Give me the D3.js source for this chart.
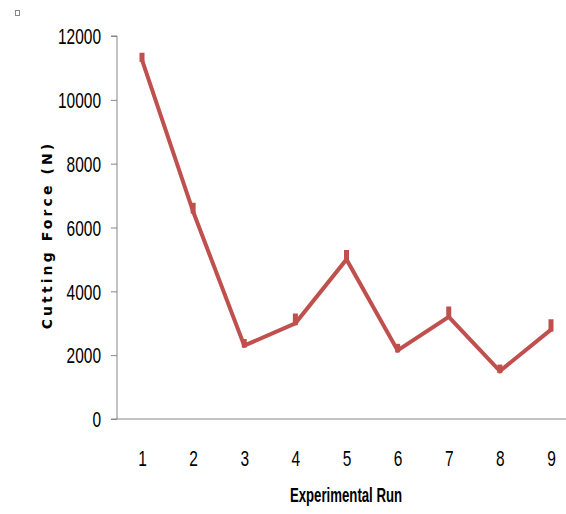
<!DOCTYPE html>
<html><head><meta charset="utf-8">
<script src="https://cdn.jsdelivr.net/npm/d3@7"></script>
<style>body{margin:0;background:#fff}</style>
</head><body>
<svg id="c" width="566" height="514"></svg>
<script>
const runs = ["1","2","3","4","5","6","7","8","9"];
const force = [11250, 6500, 2300, 3000, 5000, 2150, 3200, 1500, 2800];
const errUp = [100, 150, 80, 180, 170, 80, 200, 80, 200];
const yTicks = [0, 2000, 4000, 6000, 8000, 10000, 12000];

(function(){
const svg = d3.select("#c");
const mLeft = 117, mTop = 36, mBottom = 419;
const sx = 0.72;
const x = d3.scalePoint().domain(runs).range([142, 551]);
const y = d3.scaleLinear().domain([0, 12000]).range([mBottom, mTop]);
const tickFont = "'Liberation Sans',Arial,sans-serif";

const ya = svg.append("g").attr("transform", `translate(${mLeft},0)`)
  .call(d3.axisLeft(y).tickValues(yTicks).tickSize(6).tickPadding(9).tickFormat(d3.format("d")));
ya.select(".domain").attr("stroke", "#868686").attr("d", `M-6,${mTop}H0V${mBottom}`);
ya.selectAll(".tick line").attr("stroke", "#868686");
ya.selectAll(".tick text").attr("font-family", tickFont).attr("font-size", 21.5).attr("fill", "#000")
  .attr("x", -16 / sx).attr("dy", "0.36em").attr("transform", `scale(${sx},1)`);

const xa = svg.append("g").attr("transform", `translate(0,${mBottom})`)
  .call(d3.axisBottom(x).tickSize(0).tickPadding(0));
xa.select(".domain").attr("stroke", "#868686").attr("d", `M111,0H566`);
xa.selectAll(".tick text").attr("font-family", tickFont).attr("font-size", 21.5).attr("fill", "#000")
  .attr("y", 47).attr("dy", 0).attr("transform", `scale(${sx},1)`);

const line = d3.line().x((d, i) => x(runs[i])).y(d => y(d));
svg.append("path").datum(force).attr("d", line)
  .attr("fill", "none").attr("stroke", "#C0504D").attr("stroke-width", 4).attr("stroke-linejoin", "miter");

svg.selectAll("rect.m").data(force).enter().append("rect").attr("class", "m")
  .attr("x", (d, i) => x(runs[i]) - 2.5)
  .attr("y", (d, i) => y(d + errUp[i]) - 4)
  .attr("width", 5)
  .attr("height", (d, i) => y(d) - y(d + errUp[i]) + 6)
  .attr("fill", "#C0504D");

svg.append("text").attr("transform", `translate(346,502) scale(0.66,1)`).attr("text-anchor", "middle")
  .attr("font-family", tickFont).attr("font-weight", "bold").attr("font-size", 20)
  .text("Experimental Run");
svg.append("text").attr("transform", "translate(52,235) rotate(-90)").attr("text-anchor", "middle")
  .attr("font-family", "'DejaVu Sans',sans-serif").attr("font-weight", "bold").attr("font-size", 14)
  .attr("letter-spacing", 3.1)
  .text("Cutting Force  (N)");

svg.append("rect").attr("x", 15.5).attr("y", 10.5).attr("width", 4).attr("height", 5)
  .attr("fill", "none").attr("stroke", "#888").attr("stroke-width", 1);
})();
</script>
</body></html>
